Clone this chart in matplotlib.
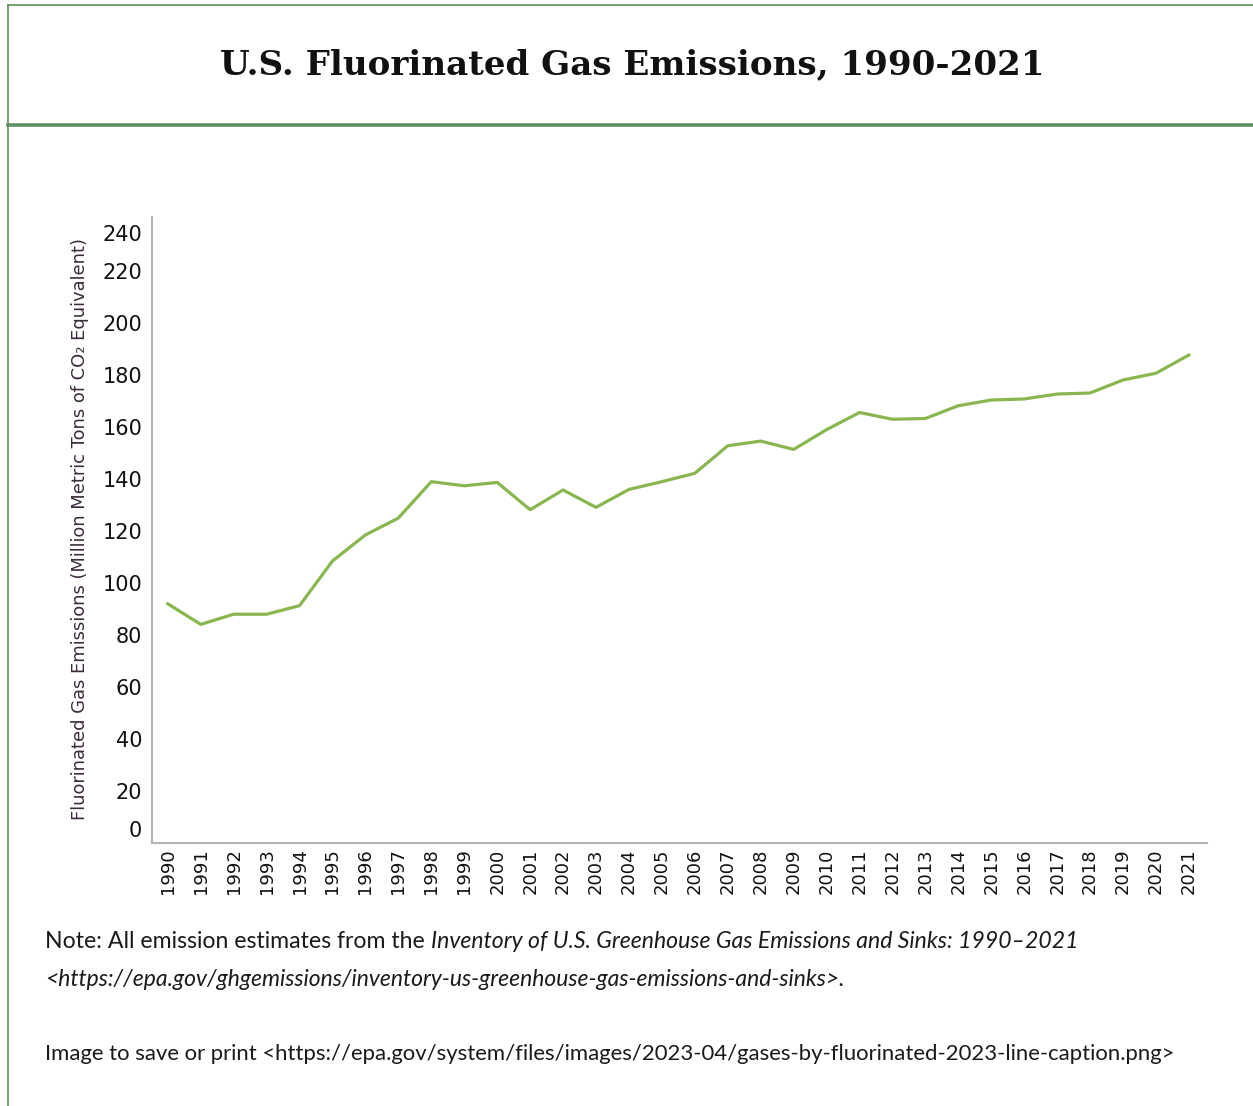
import matplotlib.pyplot as plt
from matplotlib.lines import Line2D
from matplotlib.transforms import ScaledTranslation

years = [str(y) for y in range(1990, 2022)]
emissions = [92.0, 84.1, 88.0, 88.0, 91.3, 108.5, 118.5, 125.0, 139.0, 137.4,
             138.7, 128.2, 135.8, 129.1, 136.0, 139.0, 142.2, 152.8, 154.6, 151.4,
             159.0, 165.6, 163.0, 163.3, 168.2, 170.4, 170.8, 172.7, 173.1, 178.1,
             180.7, 187.7]
y_ticks = [0, 20, 40, 60, 80, 100, 120, 140, 160, 180, 200, 220, 240]

title = "U.S. Fluorinated Gas Emissions, 1990-2021"
ylabel = "Fluorinated Gas Emissions (Million Metric Tons of CO\u2082 Equivalent)"
note_a = "Note: All emission estimates from the "
note_b = "Inventory of U.S. Greenhouse Gas Emissions and Sinks: 1990\u20132021"
note_c = "<https://epa.gov/ghgemissions/inventory-us-greenhouse-gas-emissions-and-sinks>."
note_d = "Image to save or print <https://epa.gov/system/files/images/2023-04/gases-by-fluorinated-2023-line-caption.png>"

W, H = 1253, 1106
fig = plt.figure(figsize=(W / 100, H / 100), dpi=100)

# frame lines
frame = '#5e8f5e'
fig.add_artist(Line2D([8 / W, 8 / W], [0, 1 - 5 / H], color=frame, lw=1.2))
fig.add_artist(Line2D([8 / W, 1], [1 - 5 / H, 1 - 5 / H], color=frame, lw=1.2))
fig.add_artist(Line2D([8 / W, 1], [1 - 125 / H, 1 - 125 / H], color=frame, lw=2.6))

fig.text(632 / W, 1 - 65 / H, title, ha='center', va='center',
         fontsize=24.6, fontweight='bold', family='DejaVu Serif', color='#111111')

ax = fig.add_axes([152 / W, 1 - 843 / H, 1055 / W, 626 / H])
x = list(range(len(years)))
ax.plot(x, emissions, color='#8ab650', lw=2.3)
ax.set_xlim(-0.48, 31.55)
ax.set_ylim(0, 240.8)
ax.set_xticks(x)
ax.set_xticklabels(years, rotation=90, fontsize=13, color='#111111')
ax.set_yticks(y_ticks)
ax.set_yticklabels([str(v) for v in y_ticks], fontsize=15, color='#111111')
ax.tick_params(length=0, pad=7)
ax.tick_params(axis='x', pad=4)
# end labels are pulled inside the axis range, as in the original
labels = ax.get_yticklabels()
labels[0].set_transform(labels[0].get_transform() + ScaledTranslation(0, 10 / 72, fig.dpi_scale_trans))
labels[-1].set_transform(labels[-1].get_transform() + ScaledTranslation(0, -10 / 72, fig.dpi_scale_trans))
for s in ['top', 'right']:
    ax.spines[s].set_visible(False)
for s in ['left', 'bottom']:
    ax.spines[s].set_color('#b5b5b5')
    ax.spines[s].set_linewidth(1.5)

fig.text(80 / W, 1 - 529 / H, ylabel, rotation=90, ha='center', va='center',
         fontsize=12.9, color='#3b2a3b')

# notes
fnt = 'Lato'
t1 = fig.text(45 / W, 1 - 942 / H, note_a, fontsize=16.6, family=fnt, va='center', color='#1a1a1a')
fig.canvas.draw()
bb = t1.get_window_extent()
fig.text(bb.x1 / W, 1 - 942 / H, note_b, fontsize=16.6, family=fnt, style='italic', va='center', color='#1a1a1a')
fig.text(45 / W, 1 - 980 / H, note_c, fontsize=16.5, family=fnt, style='italic', va='center', color='#1a1a1a')
fig.text(45 / W, 1 - 1054 / H, note_d, fontsize=15.9, family=fnt, va='center', color='#1a1a1a')

fig.savefig('out.png', dpi=100)
